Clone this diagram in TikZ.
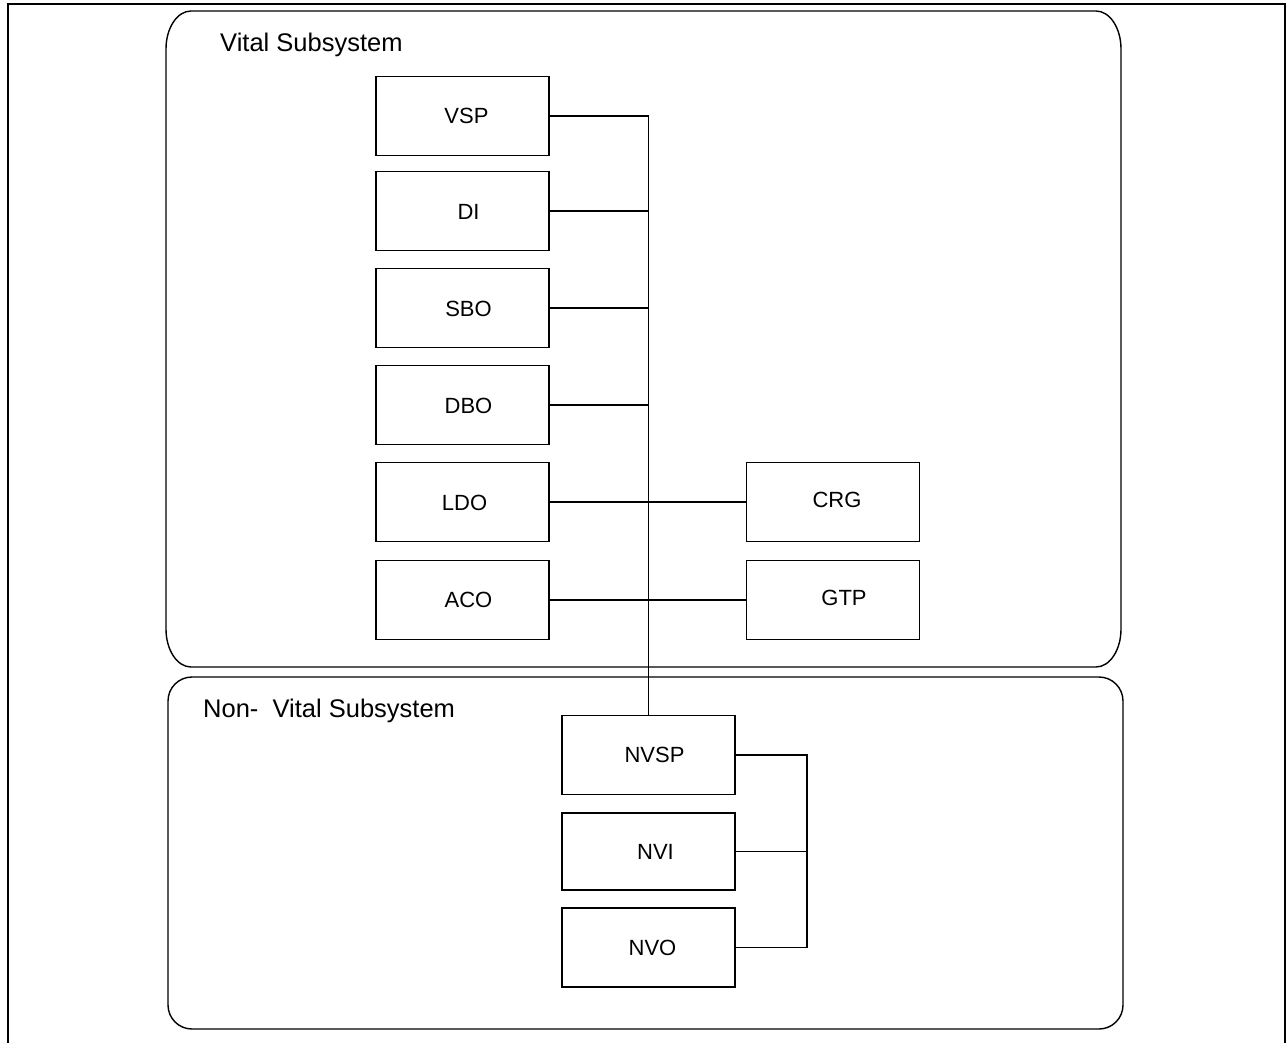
\documentclass[tikz,border=0pt]{standalone}
\usepackage{fontspec}
\setmainfont{Liberation Sans}
\begin{document}
\begin{tikzpicture}[x=1pt,y=-1pt,
  blk/.style={draw, line width=1.2pt, minimum width=173pt, minimum height=79pt, inner sep=0pt},
  lbl/.style={font=\fontsize{22}{26}\selectfont, inner sep=0pt},
  ttl/.style={font=\fontsize{25.5}{30}\selectfont, inner sep=0pt, anchor=base west},
  wire/.style={line width=1.2pt},
  frame/.style={line width=2pt},
  sub/.style={line width=1.4pt}]
\useasboundingbox (0,0) rectangle (1288,1043);
% outer frame (top, left, right)
\draw[frame] (7.7,1043) -- (7.7,3.7) -- (1284.7,3.7) -- (1284.7,1043);
% vital subsystem
\draw[sub] (166,49) .. controls (166,28) and (177.2,11) .. (191,11) -- (1096,11)
  .. controls (1109.8,11) and (1121,28) .. (1121,49) -- (1121,629)
  .. controls (1121,650) and (1109.8,667) .. (1096,667) -- (191,667)
  .. controls (177.2,667) and (166,650) .. (166,629) -- cycle;
\node[ttl] (vt) at (220,52) {Vital Subsystem};
% non-vital subsystem
\draw[sub, rounded corners=24pt] (168,677) rectangle (1123,1029);
\node[ttl] (nvt) at (203,717) {Non-\ \ Vital Subsystem};
% vital blocks
\node[blk, label={[lbl,xshift=4pt]center:VSP}] (vsp) at (462.5,116) {};
\node[blk, label={[lbl,xshift=6pt,yshift=-1pt]center:DI}] (di) at (462.5,211) {};
\node[blk, label={[lbl,xshift=6pt,yshift=-1pt]center:SBO}] (sbo) at (462.5,308) {};
\node[blk, label={[lbl,xshift=6pt,yshift=-1pt]center:DBO}] (dbo) at (462.5,405) {};
\node[blk, label={[lbl,xshift=2pt,yshift=-1pt]center:LDO}] (ldo) at (462.5,502) {};
\node[blk, label={[lbl,xshift=6pt]center:ACO}] (aco) at (462.5,600) {};
\node[blk, label={[lbl,xshift=4pt,yshift=2pt]center:CRG}] (crg) at (833,502) {};
\node[blk, label={[lbl,xshift=11pt,yshift=2pt]center:GTP}] (gtp) at (833,600) {};
% non-vital blocks
\node[blk, label={[lbl,xshift=6pt]center:NVSP}] (nvsp) at (648.5,755) {};
\node[blk, minimum height=77pt, label={[lbl,xshift=7pt]center:NVI}] (nvi) at (648.5,851.5) {};
\node[blk, label={[lbl,xshift=4pt]center:NVO}] (nvo) at (648.5,947.5) {};
% vital bus
\draw[wire] (vsp.east) -| (nvsp.north);
\draw[wire] (di.east) -- (di.east -| nvsp.north);
\draw[wire] (sbo.east) -- (sbo.east -| nvsp.north);
\draw[wire] (dbo.east) -- (dbo.east -| nvsp.north);
\draw[wire] (ldo.east) -- (crg.west);
\draw[wire] (aco.east) -- (gtp.west);
% non-vital bus
\coordinate (nb) at (807,755);
\draw[wire] (nvsp.east) -- (nb) |- (nvo.east);
\draw[wire] (nvi.east) -- (nvi.east -| nb);
\end{tikzpicture}
\end{document}
